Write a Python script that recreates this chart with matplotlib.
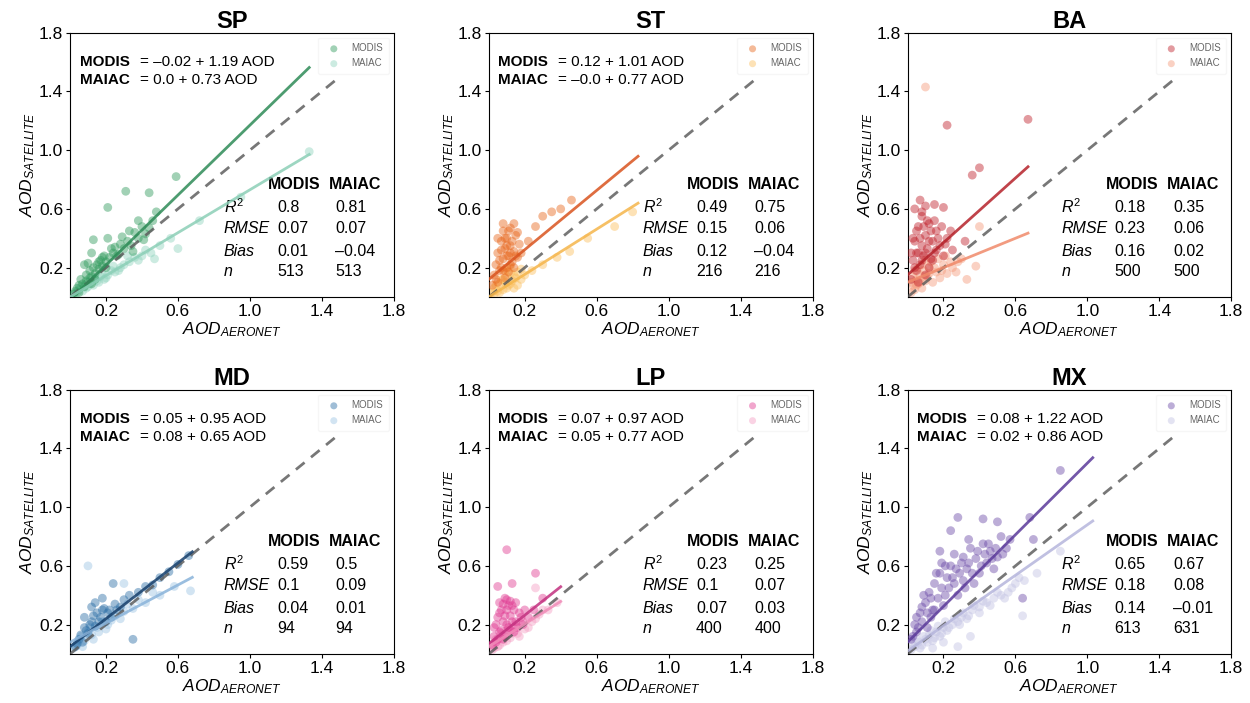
import matplotlib
matplotlib.use("Agg")
import matplotlib.pyplot as plt

plt.rcParams['font.family'] = ['Liberation Sans', 'DejaVu Sans']
plt.rcParams['mathtext.fontset'] = 'custom'
plt.rcParams['mathtext.rm'] = 'Liberation Sans'
plt.rcParams['mathtext.it'] = 'Liberation Sans:italic'
plt.rcParams['mathtext.bf'] = 'Liberation Sans:bold'

# sites, in panel order
sites = ["SP", "ST", "BA", "MD", "LP", "MX"]

# scatter points (AERONET, satellite)
sp_modis_x = [0.03, 0.05, 0.06, 0.08, 0.09, 0.10, 0.11, 0.12, 0.13, 0.14, 0.15, 0.16, 0.17, 0.18, 0.19, 0.20,
              0.22, 0.24, 0.25, 0.27, 0.28, 0.30, 0.32, 0.34, 0.36, 0.38, 0.40, 0.42, 0.44, 0.46,
              0.13, 0.21, 0.21, 0.31, 0.44, 0.59, 0.08, 0.12,
              0.02, 0.04, 0.05, 0.07, 0.09, 0.11, 0.12, 0.14, 0.16, 0.18, 0.20, 0.23, 0.26, 0.29,
              0.33, 0.35, 0.38, 0.41, 0.48, 0.10]
sp_modis_y = [0.04, 0.08, 0.12, 0.07, 0.15, 0.10, 0.18, 0.14, 0.20, 0.16, 0.22, 0.19, 0.25, 0.21, 0.28, 0.24,
              0.27, 0.30, 0.34, 0.29, 0.36, 0.33, 0.38, 0.35, 0.44, 0.40, 0.48, 0.43, 0.47, 0.52,
              0.39, 0.40, 0.61, 0.72, 0.71, 0.82, 0.22, 0.30,
              0.02, 0.06, 0.03, 0.09, 0.11, 0.13, 0.09, 0.12, 0.24, 0.27, 0.20, 0.33, 0.28, 0.41,
              0.45, 0.31, 0.52, 0.39, 0.58, 0.23]
sp_maiac_x = [0.03, 0.05, 0.07, 0.08, 0.10, 0.12, 0.13, 0.15, 0.17, 0.19, 0.21, 0.23, 0.25, 0.28, 0.30,
              0.33, 0.36, 0.40, 0.45, 0.50, 0.56, 0.60, 0.72, 0.95, 1.33,
              0.04, 0.06, 0.09, 0.11, 0.14, 0.16, 0.18, 0.20, 0.24, 0.27, 0.32, 0.38, 0.42, 0.47]
sp_maiac_y = [0.03, 0.05, 0.04, 0.08, 0.07, 0.10, 0.08, 0.11, 0.14, 0.12, 0.15, 0.18, 0.17, 0.20, 0.22,
              0.24, 0.27, 0.28, 0.30, 0.35, 0.40, 0.33, 0.52, 0.68, 0.99,
              0.03, 0.07, 0.06, 0.09, 0.13, 0.10, 0.16, 0.13, 0.21, 0.18, 0.28, 0.25, 0.32, 0.26]

st_modis_x = [0.03, 0.04, 0.05, 0.06, 0.07, 0.08, 0.08, 0.09, 0.10, 0.10, 0.11, 0.12, 0.12, 0.13, 0.14,
              0.15, 0.16, 0.17, 0.05, 0.09, 0.11, 0.14, 0.18, 0.22, 0.26, 0.30, 0.35, 0.40, 0.46,
              0.02, 0.04, 0.06, 0.07, 0.08, 0.09, 0.10, 0.11, 0.12, 0.13, 0.14, 0.15, 0.16, 0.05,
              0.08, 0.12, 0.10, 0.07]
st_modis_y = [0.15, 0.22, 0.30, 0.18, 0.38, 0.26, 0.45, 0.33, 0.20, 0.40, 0.28, 0.35, 0.47, 0.24, 0.31,
              0.42, 0.27, 0.36, 0.10, 0.13, 0.17, 0.20, 0.30, 0.38, 0.48, 0.55, 0.58, 0.60, 0.66,
              0.08, 0.12, 0.25, 0.32, 0.18, 0.40, 0.28, 0.45, 0.22, 0.38, 0.50, 0.28, 0.44, 0.40,
              0.50, 0.30, 0.35, 0.20]
st_maiac_x = [0.02, 0.03, 0.05, 0.06, 0.07, 0.08, 0.09, 0.10, 0.11, 0.12, 0.13, 0.14, 0.15, 0.16, 0.18,
              0.20, 0.24, 0.30, 0.38, 0.45, 0.55, 0.70, 0.80,
              0.03, 0.04, 0.06, 0.08, 0.10, 0.12, 0.14, 0.16, 0.18, 0.09, 0.12]
st_maiac_y = [0.03, 0.06, 0.04, 0.09, 0.12, 0.05, 0.10, 0.14, 0.08, 0.16, 0.11, 0.06, 0.13, 0.17, 0.12,
              0.15, 0.18, 0.22, 0.27, 0.31, 0.40, 0.48, 0.58,
              0.02, 0.08, 0.03, 0.12, 0.06, 0.09, 0.15, 0.08, 0.19, 0.18, 0.20]

ba_modis_x = [0.02, 0.03, 0.04, 0.05, 0.06, 0.06, 0.07, 0.08, 0.08, 0.09, 0.10, 0.10, 0.11, 0.12, 0.13,
              0.14, 0.15, 0.16, 0.18, 0.20, 0.22, 0.25, 0.04, 0.07, 0.10, 0.15, 0.20, 0.36, 0.40, 0.22,
              0.67, 0.32,
              0.03, 0.04, 0.05, 0.05, 0.06, 0.07, 0.08, 0.09, 0.10, 0.11, 0.12, 0.12, 0.13, 0.14,
              0.15, 0.16, 0.17, 0.19, 0.21, 0.24, 0.02, 0.08]
ba_modis_y = [0.12, 0.25, 0.38, 0.18, 0.30, 0.48, 0.22, 0.35, 0.55, 0.28, 0.42, 0.15, 0.33, 0.50, 0.26,
              0.38, 0.30, 0.45, 0.35, 0.28, 0.40, 0.32, 0.60, 0.66, 0.62, 0.63, 0.61, 0.83, 0.88, 1.17,
              1.21, 0.38,
              0.40, 0.20, 0.30, 0.45, 0.10, 0.40, 0.25, 0.48, 0.30, 0.52, 0.20, 0.38, 0.45, 0.25,
              0.52, 0.32, 0.40, 0.48, 0.36, 0.45, 0.30, 0.58]
ba_maiac_x = [0.02, 0.03, 0.04, 0.05, 0.06, 0.07, 0.08, 0.09, 0.10, 0.11, 0.12, 0.14, 0.16, 0.18, 0.20,
              0.22, 0.25, 0.28, 0.33, 0.38, 0.40, 0.10,
              0.02, 0.03, 0.04, 0.05, 0.06, 0.07, 0.08, 0.09, 0.10, 0.12, 0.13, 0.15, 0.17, 0.19,
              0.21, 0.24, 0.27, 0.30]
ba_maiac_y = [0.03, 0.08, 0.05, 0.12, 0.09, 0.15, 0.06, 0.18, 0.11, 0.14, 0.20, 0.10, 0.17, 0.13, 0.22,
              0.16, 0.20, 0.24, 0.12, 0.21, 0.48, 1.43,
              0.10, 0.14, 0.18, 0.08, 0.20, 0.10, 0.22, 0.14, 0.25, 0.16, 0.24, 0.20, 0.26, 0.18,
              0.28, 0.24, 0.17, 0.26]

md_modis_x = [0.03, 0.05, 0.07, 0.08, 0.10, 0.12, 0.14, 0.15, 0.17, 0.19, 0.20, 0.22, 0.25, 0.28, 0.30,
              0.33, 0.38, 0.42, 0.46, 0.50, 0.55, 0.60, 0.66, 0.12, 0.18, 0.24, 0.35,
              0.04, 0.06, 0.09, 0.11, 0.13, 0.16, 0.18, 0.21, 0.23, 0.26, 0.08, 0.14]
md_modis_y = [0.05, 0.10, 0.08, 0.18, 0.14, 0.22, 0.19, 0.28, 0.25, 0.31, 0.22, 0.30, 0.34, 0.32, 0.37,
              0.40, 0.42, 0.46, 0.47, 0.52, 0.56, 0.61, 0.67, 0.32, 0.38, 0.48, 0.10,
              0.07, 0.13, 0.16, 0.20, 0.26, 0.22, 0.30, 0.28, 0.25, 0.30, 0.25, 0.35]
md_maiac_x = [0.02, 0.04, 0.06, 0.08, 0.10, 0.12, 0.15, 0.18, 0.21, 0.25, 0.30, 0.35, 0.42, 0.50, 0.58,
              0.67, 0.10, 0.30,
              0.05, 0.07, 0.09, 0.11, 0.13, 0.16, 0.20, 0.23, 0.28, 0.32, 0.38, 0.46]
md_maiac_y = [0.04, 0.06, 0.12, 0.09, 0.15, 0.13, 0.18, 0.22, 0.20, 0.26, 0.29, 0.31, 0.35, 0.40, 0.46,
              0.43, 0.60, 0.48,
              0.09, 0.05, 0.12, 0.18, 0.10, 0.15, 0.17, 0.23, 0.24, 0.34, 0.37, 0.42]

lp_modis_x = [0.02, 0.03, 0.04, 0.05, 0.06, 0.07, 0.08, 0.08, 0.09, 0.10, 0.10, 0.11, 0.12, 0.13, 0.14,
              0.15, 0.17, 0.19, 0.22, 0.25, 0.05, 0.13, 0.26, 0.10, 0.30,
              0.03, 0.04, 0.05, 0.06, 0.07, 0.08, 0.09, 0.10, 0.11, 0.12, 0.13, 0.14, 0.15, 0.16,
              0.18, 0.20, 0.06, 0.09, 0.12]
lp_modis_y = [0.06, 0.12, 0.20, 0.10, 0.28, 0.16, 0.34, 0.22, 0.12, 0.30, 0.37, 0.18, 0.26, 0.33, 0.15,
              0.22, 0.28, 0.20, 0.25, 0.30, 0.46, 0.48, 0.55, 0.71, 0.38,
              0.18, 0.08, 0.25, 0.15, 0.30, 0.10, 0.26, 0.20, 0.33, 0.16, 0.22, 0.30, 0.35, 0.18,
              0.25, 0.30, 0.35, 0.38, 0.36]
lp_maiac_x = [0.02, 0.03, 0.05, 0.06, 0.07, 0.08, 0.09, 0.10, 0.12, 0.14, 0.16, 0.18, 0.20, 0.24, 0.28,
              0.33, 0.38, 0.26,
              0.03, 0.04, 0.06, 0.08, 0.10, 0.11, 0.13, 0.15, 0.17, 0.19, 0.22, 0.26, 0.30]
lp_maiac_y = [0.03, 0.07, 0.05, 0.10, 0.14, 0.08, 0.12, 0.16, 0.11, 0.18, 0.14, 0.21, 0.17, 0.22, 0.27,
              0.30, 0.35, 0.45,
              0.04, 0.10, 0.06, 0.13, 0.09, 0.18, 0.14, 0.20, 0.12, 0.22, 0.18, 0.24, 0.30]

mx_modis_x = [0.02, 0.04, 0.05, 0.07, 0.08, 0.10, 0.11, 0.12, 0.14, 0.15, 0.17, 0.18, 0.20, 0.21, 0.23,
              0.25, 0.26, 0.28, 0.30, 0.31, 0.33, 0.35, 0.37, 0.38, 0.40, 0.42, 0.44, 0.46, 0.48, 0.50,
              0.52, 0.55, 0.13, 0.18, 0.24, 0.28, 0.42, 0.50, 0.68, 0.85, 0.70, 0.64,
              0.03, 0.05, 0.06, 0.08, 0.09, 0.11, 0.13, 0.15, 0.16, 0.19, 0.21, 0.22, 0.24, 0.26,
              0.27, 0.29, 0.31, 0.32, 0.34, 0.36, 0.39, 0.41, 0.43, 0.45, 0.47, 0.49, 0.53, 0.57,
              0.19, 0.34]
mx_modis_y = [0.10, 0.20, 0.15, 0.28, 0.22, 0.35, 0.18, 0.42, 0.30, 0.48, 0.38, 0.55, 0.33, 0.60, 0.45,
              0.52, 0.68, 0.40, 0.62, 0.50, 0.58, 0.72, 0.48, 0.65, 0.55, 0.75, 0.62, 0.70, 0.58, 0.66,
              0.80, 0.72, 0.25, 0.70, 0.84, 0.93, 0.92, 0.90, 0.93, 1.25, 0.78, 0.38,
              0.12, 0.25, 0.18, 0.32, 0.40, 0.28, 0.38, 0.30, 0.55, 0.45, 0.40, 0.52, 0.60, 0.48,
              0.58, 0.55, 0.66, 0.45, 0.62, 0.55, 0.70, 0.60, 0.68, 0.75, 0.65, 0.72, 0.68, 0.78,
              0.62, 0.78]
mx_maiac_x = [0.02, 0.04, 0.06, 0.08, 0.10, 0.12, 0.14, 0.16, 0.18, 0.20, 0.22, 0.25, 0.28, 0.30, 0.33,
              0.36, 0.40, 0.44, 0.48, 0.52, 0.56, 0.60, 0.65, 0.72, 0.85, 0.28, 0.64, 0.14,
              0.03, 0.05, 0.07, 0.09, 0.11, 0.13, 0.15, 0.17, 0.19, 0.21, 0.23, 0.26, 0.29, 0.31,
              0.34, 0.37, 0.40, 0.42, 0.46, 0.50, 0.54, 0.58, 0.62, 0.20, 0.35]
mx_maiac_y = [0.03, 0.05, 0.08, 0.06, 0.10, 0.13, 0.09, 0.15, 0.12, 0.18, 0.16, 0.20, 0.22, 0.25, 0.24,
              0.30, 0.32, 0.35, 0.38, 0.40, 0.42, 0.48, 0.50, 0.55, 0.70, 0.05, 0.26, 0.04,
              0.06, 0.10, 0.04, 0.12, 0.08, 0.16, 0.11, 0.19, 0.14, 0.22, 0.18, 0.24, 0.20, 0.28,
              0.26, 0.33, 0.28, 0.36, 0.33, 0.42, 0.38, 0.45, 0.52, 0.08, 0.12]

modis_x = [sp_modis_x, st_modis_x, ba_modis_x, md_modis_x, lp_modis_x, mx_modis_x]
modis_y = [sp_modis_y, st_modis_y, ba_modis_y, md_modis_y, lp_modis_y, mx_modis_y]
maiac_x = [sp_maiac_x, st_maiac_x, ba_maiac_x, md_maiac_x, lp_maiac_x, mx_maiac_x]
maiac_y = [sp_maiac_y, st_maiac_y, ba_maiac_y, md_maiac_y, lp_maiac_y, mx_maiac_y]

# regression lines (BA has no printed equation)
modis_icpt = [-0.02, 0.12, 0.15, 0.05, 0.07, 0.08]
modis_slope = [1.19, 1.01, 1.10, 0.95, 0.97, 1.22]
maiac_icpt = [0.0, -0.0, 0.10, 0.08, 0.05, 0.02]
maiac_slope = [0.73, 0.77, 0.50, 0.65, 0.77, 0.86]
fit_xmax = [1.33, 0.83, 0.67, 0.68, 0.40, 1.03]

eq_modis = ["= –0.02 + 1.19 AOD", "= 0.12 + 1.01 AOD", None,
            "= 0.05 + 0.95 AOD", "= 0.07 + 0.97 AOD", "= 0.08 + 1.22 AOD"]
eq_maiac = ["= 0.0 + 0.73 AOD", "= –0.0 + 0.77 AOD", None,
            "= 0.08 + 0.65 AOD", "= 0.05 + 0.77 AOD", "= 0.02 + 0.86 AOD"]

# stats table
r2_modis = ["0.8", "0.49", "0.18", "0.59", "0.23", "0.65"]
r2_maiac = ["0.81", "0.75", "0.35", "0.5", "0.25", "0.67"]
rmse_modis = ["0.07", "0.15", "0.23", "0.1", "0.1", "0.18"]
rmse_maiac = ["0.07", "0.06", "0.06", "0.09", "0.07", "0.08"]
bias_modis = ["0.01", "0.12", "0.16", "0.04", "0.07", "0.14"]
bias_maiac = ["–0.04", "–0.04", "0.02", "0.01", "0.03", "–0.01"]
n_modis = ["513", "216", "500", "94", "400", "613"]
n_maiac = ["513", "216", "500", "94", "400", "631"]

ticks = [0.2, 0.6, 1.0, 1.4, 1.8]

modis_pt_col = ["#2f9a5c", "#e8661c", "#c0202a", "#2b6ea6", "#e03a92", "#6b4aa8"]
modis_ln_col = ["#2e8b57", "#d9531e", "#b5222a", "#173f6b", "#c2307f", "#5b3a9a"]
maiac_pt_col = ["#8fd3bd", "#fbbf5e", "#f59a7a", "#9cc4e4", "#f59ec4", "#c3c3e4"]
maiac_ln_col = ["#8ccfb7", "#f5b54a", "#f08a6a", "#89b3da", "#f08cb8", "#b5b5dc"]

fig = plt.figure(figsize=(12.5, 7.03), dpi=100)
lefts = [0.056, 0.391, 0.726]
bottoms = [0.5775, 0.0697]

for i, site in enumerate(sites):
    row, col = divmod(i, 3)
    ax = fig.add_axes([lefts[col], bottoms[row], 0.259, 0.376])

    ax.scatter(maiac_x[i], maiac_y[i], s=40, color=maiac_pt_col[i], alpha=0.45,
               edgecolors='none', label='MAIAC', zorder=2)
    ax.scatter(modis_x[i], modis_y[i], s=40, color=modis_pt_col[i], alpha=0.45,
               edgecolors='none', label='MODIS', zorder=3)

    ax.plot([0, 1.5], [0, 1.5], ls='--', color='#555555', lw=2, alpha=0.8,
            dashes=(4, 3), zorder=4)
    xmax = fit_xmax[i]
    ax.plot([0, xmax], [modis_icpt[i], modis_icpt[i] + modis_slope[i] * xmax],
            color=modis_ln_col[i], lw=2, alpha=0.85, zorder=5)
    ax.plot([0, xmax], [maiac_icpt[i], maiac_icpt[i] + maiac_slope[i] * xmax],
            color=maiac_ln_col[i], lw=2, alpha=0.85, zorder=5)

    ax.set_xlim(0, 1.8)
    ax.set_ylim(0, 1.8)
    ax.set_xticks(ticks)
    ax.set_yticks(ticks)
    ax.set_xticklabels([f"{t:.1f}" for t in ticks])
    ax.set_yticklabels([f"{t:.1f}" for t in ticks])
    ax.tick_params(labelsize=12.5, length=3, pad=2)
    ax.set_title(site, fontsize=17, fontweight='bold', pad=3)
    ax.set_xlabel(r"$AOD_{AERONET}$", fontsize=12.5, labelpad=1)
    ax.set_ylabel(r"$AOD_{SATELLITE}$", fontsize=12.5, labelpad=1)

    if eq_modis[i]:
        ax.text(0.03, 0.89, "MODIS", transform=ax.transAxes, fontsize=11, fontweight='bold', va='center')
        ax.text(0.215, 0.89, eq_modis[i], transform=ax.transAxes, fontsize=11, va='center')
        ax.text(0.03, 0.822, "MAIAC", transform=ax.transAxes, fontsize=11, fontweight='bold', va='center')
        ax.text(0.215, 0.822, eq_maiac[i], transform=ax.transAxes, fontsize=11, va='center')

    # stats table
    ax.text(0.612, 0.424, "MODIS", transform=ax.transAxes, fontsize=11.5, fontweight='bold', va='center')
    ax.text(0.80, 0.424, "MAIAC", transform=ax.transAxes, fontsize=11.5, fontweight='bold', va='center')
    rows = [(r"$R^2$", r2_modis[i], r2_maiac[i]),
            ("RMSE", rmse_modis[i], rmse_maiac[i]),
            ("Bias", bias_modis[i], bias_maiac[i]),
            ("n", n_modis[i], n_maiac[i])]
    ys = [0.34, 0.258, 0.172, 0.095]
    for (lab, v1, v2), yy in zip(rows, ys):
        ax.text(0.475, yy, lab, transform=ax.transAxes, fontsize=11.5, style='italic', va='center')
        ax.text(0.64, yy, v1, transform=ax.transAxes, fontsize=11.5, va='center')
        ax.text(0.82, yy, v2, transform=ax.transAxes, fontsize=11.5, va='center')

    handles, labels = ax.get_legend_handles_labels()
    leg = ax.legend(handles[::-1], labels[::-1], loc='upper right', fontsize=7,
                    frameon=True, framealpha=0.6, edgecolor='#f0f0f0', labelcolor='#666666',
                    borderpad=0.6, handletextpad=0.8, markerscale=0.8)

fig.savefig("out.png", dpi=100)
